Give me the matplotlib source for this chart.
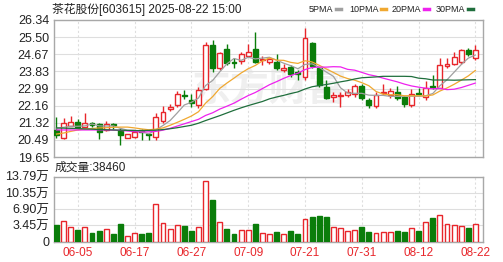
import matplotlib

matplotlib.use("Agg")
import matplotlib.pyplot as plt  # noqa: E402
from matplotlib.patches import Rectangle  # noqa: E402

plt.rcParams["font.family"] = ["Liberation Sans", "Noto Sans CJK SC", "DejaVu Sans"]

# daily bars 2025-05-30 .. 2025-08-22 (60 trading days)
opens = [20.97, 20.60, 21.16, 21.37, 21.13, 21.30, 21.25, 20.98, 21.25, 20.97,
         20.59, 20.64, 20.95, 20.78, 20.65, 21.41, 22.00, 22.19, 22.70, 22.45,
         22.19, 22.95, 25.10, 23.98, 24.92, 24.30, 24.34, 24.60, 24.92, 24.40,
         24.27, 24.30, 23.90, 24.06, 23.78, 23.55, 25.20, 23.98, 23.08, 22.60,
         22.65, 22.68, 22.71, 23.12, 22.43, 22.16, 22.76, 22.68, 22.81, 22.60,
         22.19, 22.78, 22.60, 23.10, 23.03, 24.10, 24.18, 24.30, 24.87, 24.50]
highs = [21.62, 21.54, 21.65, 21.50, 21.78, 21.38, 21.32, 21.40, 21.33, 21.05,
         20.78, 20.95, 21.00, 20.80, 21.80, 22.15, 22.25, 22.85, 22.90, 22.73,
         23.08, 25.28, 25.35, 24.80, 25.15, 24.48, 24.80, 25.15, 25.77, 24.60,
         24.50, 24.67, 24.20, 24.15, 23.90, 25.93, 25.28, 24.06, 23.41, 22.84,
         22.84, 22.97, 23.20, 23.20, 22.52, 22.84, 23.20, 23.00, 23.13, 22.65,
         22.95, 23.00, 23.37, 23.66, 24.47, 24.47, 24.80, 24.90, 24.98, 25.12]
lows = [20.59, 20.53, 21.14, 21.10, 21.10, 21.10, 20.53, 20.93, 21.00, 20.24,
        20.57, 20.60, 20.46, 20.50, 20.48, 21.30, 21.90, 22.10, 22.48, 22.10,
        22.03, 22.90, 23.80, 23.90, 24.14, 24.00, 24.20, 24.55, 24.25, 24.15,
        24.20, 23.90, 23.78, 23.55, 23.40, 23.40, 23.98, 23.08, 22.48, 22.32,
        22.10, 22.60, 22.60, 22.44, 22.06, 22.06, 22.70, 22.55, 22.43, 22.07,
        22.07, 22.68, 22.43, 22.97, 23.00, 23.98, 24.14, 24.20, 24.57, 24.38]
closes = [20.72, 21.33, 21.34, 21.13, 21.32, 21.20, 20.88, 21.25, 21.20, 20.70,
          20.76, 20.89, 20.87, 20.70, 21.62, 21.86, 22.10, 22.73, 22.62, 22.30,
          22.92, 25.12, 24.00, 24.71, 24.23, 24.22, 24.67, 24.76, 24.30, 24.44,
          24.44, 23.98, 23.98, 23.69, 23.72, 25.48, 24.11, 23.17, 22.52, 22.66,
          22.70, 22.81, 23.12, 22.52, 22.19, 22.68, 22.80, 22.87, 22.52, 22.22,
          22.71, 22.72, 23.03, 23.05, 24.14, 24.17, 24.55, 24.87, 24.67, 24.87]
# volume in 万 (10k lots)
volumes = [3.54, 4.40, 3.04, 2.47, 3.04, 1.90, 2.33, 2.62, 1.61, 3.76,
           1.25, 1.90, 1.61, 1.90, 7.99, 3.90, 2.62, 3.47, 3.33, 2.33,
           3.18, 12.85, 8.77, 4.12, 2.62, 1.68, 2.47, 2.47, 3.69, 1.90,
           1.54, 2.10, 1.54, 2.33, 1.54, 4.76, 5.19, 5.41, 5.19, 3.04,
           2.90, 2.26, 2.40, 3.11, 1.97, 1.76, 1.97, 2.10, 2.33, 1.97,
           2.96, 2.26, 4.12, 4.98, 5.69, 3.76, 3.54, 3.40, 2.96, 3.85]

ma5 = [21.05, 21.10, 21.15, 21.15, 21.17, 21.26, 21.17, 21.16, 21.17, 21.05,
       20.96, 20.96, 20.88, 20.78, 20.97, 21.19, 21.43, 21.80, 22.19, 22.32,
       22.53, 23.14, 23.39, 23.81, 24.20, 24.46, 24.37, 24.52, 24.44, 24.48,
       24.52, 24.38, 24.23, 24.11, 23.96, 24.17, 24.20, 24.03, 23.80, 23.59,
       23.03, 22.77, 22.76, 22.76, 22.67, 22.66, 22.66, 22.61, 22.61, 22.62,
       22.62, 22.61, 22.64, 22.75, 23.13, 23.42, 23.79, 24.16, 24.48, 24.63]
ma10 = [20.77, 20.82, 20.90, 20.97, 21.02, 21.04, 21.07, 21.08, 21.10, 21.11,
        21.11, 21.07, 21.02, 20.98, 21.01, 21.07, 21.20, 21.34, 21.49, 21.65,
        21.86, 22.28, 22.60, 23.00, 23.26, 23.50, 23.75, 23.96, 24.12, 24.34,
        24.49, 24.38, 24.37, 24.27, 24.22, 24.35, 24.29, 24.13, 23.95, 23.78,
        23.60, 23.48, 23.40, 23.28, 23.13, 22.85, 22.72, 22.69, 22.69, 22.64,
        22.64, 22.64, 22.63, 22.68, 22.87, 23.02, 23.20, 23.40, 23.61, 23.88]
ma20 = [20.97, 20.97, 20.97, 20.97, 20.97, 20.97, 20.97, 20.97, 20.96, 20.95,
        20.92, 20.89, 20.87, 20.88, 20.90, 20.96, 21.05, 21.16, 21.27, 21.38,
        21.49, 21.68, 21.81, 21.99, 22.13, 22.28, 22.47, 22.65, 22.80, 22.99,
        23.18, 23.33, 23.49, 23.63, 23.74, 23.92, 24.02, 24.04, 24.04, 24.06,
        24.05, 23.93, 23.89, 23.78, 23.67, 23.60, 23.50, 23.41, 23.32, 23.21,
        23.12, 23.06, 23.01, 22.98, 23.00, 22.94, 22.96, 23.04, 23.15, 23.26]
ma30 = [21.07, 21.06, 21.05, 21.04, 21.02, 21.01, 20.99, 20.98, 20.97, 20.96,
        20.95, 20.94, 20.94, 20.95, 20.96, 20.99, 21.03, 21.08, 21.14, 21.20,
        21.30, 21.43, 21.55, 21.67, 21.80, 21.93, 22.05, 22.16, 22.26, 22.36,
        22.49, 22.58, 22.66, 22.75, 22.83, 22.97, 23.08, 23.14, 23.19, 23.25,
        23.32, 23.38, 23.46, 23.52, 23.54, 23.56, 23.59, 23.59, 23.59, 23.59,
        23.58, 23.50, 23.47, 23.41, 23.41, 23.41, 23.40, 23.41, 23.42, 23.43]

date_idx = [3, 11, 19, 27, 35, 43, 51, 59]
date_labels = ["06-05", "06-17", "06-27", "07-09", "07-21", "07-31", "08-12", "08-22"]
price_ticks = ["19.65", "20.49", "21.32", "22.16", "22.99", "23.83", "24.67", "25.50", "26.34"]
vol_ticks = [0, 3.45, 6.90, 10.35, 13.79]
vol_tick_labels = ["0", "3.45万", "6.90万", "10.35万", "13.79万"]

RED = "#e8262b"
GREEN = "#0a7d0a"
FRAME = "#a8a8a8"
GRID = "#dedede"
MA_COLORS = ["#a0a0a0", "#f0a830", "#ee22ee", "#1f6e3c"]

fig = plt.figure(figsize=(5.03, 2.62), dpi=100)
W, H = 503, 262
ax = fig.add_axes([54 / W, 1 - 157 / H, 429 / W, 137 / H])
axv = fig.add_axes([54 / W, 1 - 241.7 / H, 429 / W, 65 / H])

n = len(closes)
bw = 0.7
for a in (ax, axv):
    a.set_xlim(-0.35, 60.07)
    a.set_xticks(date_idx)
    a.grid(True, axis="x", color=GRID, lw=0.8, ls=(0, (2, 2)))
    a.grid(True, axis="y", color=GRID, lw=0.8)
    a.set_axisbelow(True)
    a.tick_params(length=0, labelsize=9, colors="#222222")
    for s in a.spines.values():
        s.set_color(FRAME)
        s.set_linewidth(1)

# faint watermark
ax.text(30, 22.9, "东方财富", color="#efefef", fontsize=28, ha="center", va="center",
        fontweight="bold", zorder=0.5)

# candles and volume bars
for i in range(n):
    o, h, l, c = opens[i], highs[i], lows[i], closes[i]
    up = c >= o
    col = RED if up else GREEN
    ax.vlines(i, l, h, color=col, lw=1, zorder=2)
    body = max(abs(c - o), 0.02)
    ax.add_patch(Rectangle((i - bw / 2, min(o, c)), bw, body,
                           facecolor="white" if up else GREEN, edgecolor=col, lw=1, zorder=3))
    axv.add_patch(Rectangle((i - bw / 2, 0), bw, volumes[i],
                            facecolor="white" if up else GREEN, edgecolor=col, lw=1, zorder=3))

x = range(n)
for ma, col in zip([ma5, ma10, ma20, ma30], MA_COLORS):
    ax.plot(x, ma, color=col, lw=0.9, zorder=4)

ax.set_ylim(19.65, 26.34)
ax.set_yticks([float(t) for t in price_ticks])
ax.set_yticklabels(price_ticks)
ax.set_xticklabels([])

axv.set_ylim(0, 13.79)
axv.set_yticks(vol_ticks)
axv.set_yticklabels(vol_tick_labels)
axv.set_xticklabels(date_labels, color=RED, fontsize=8.5)
axv.tick_params(axis="x", pad=4)

# header texts
fig.text(52 / W, 1 - 9 / H, "茶花股份[603615] 2025-08-22 15:00", fontsize=8.5,
         va="center", ha="left", color="#222222")
fig.text(55 / W, 1 - 168 / H, "成交量:38460", fontsize=8.5, va="center", ha="left",
         color="#222222")

# MA legend: label followed by a short coloured dash
legend_labels = ["5PMA", "10PMA", "20PMA", "30PMA"]
legend_x = [309, 349, 392, 436]
renderer = fig.canvas.get_renderer()
for label, col, px in zip(legend_labels, MA_COLORS, legend_x):
    t = fig.text(px / W, 1 - 9 / H, label, fontsize=6.5, va="center", ha="left",
                 color="#222222")
    right = t.get_window_extent(renderer).x1
    fig.add_artist(plt.Line2D([(right + 2) / W, (right + 7) / W], [1 - 9 / H, 1 - 9 / H],
                              color=col, lw=2.5, transform=fig.transFigure))

fig.savefig("out.png", dpi=100)
